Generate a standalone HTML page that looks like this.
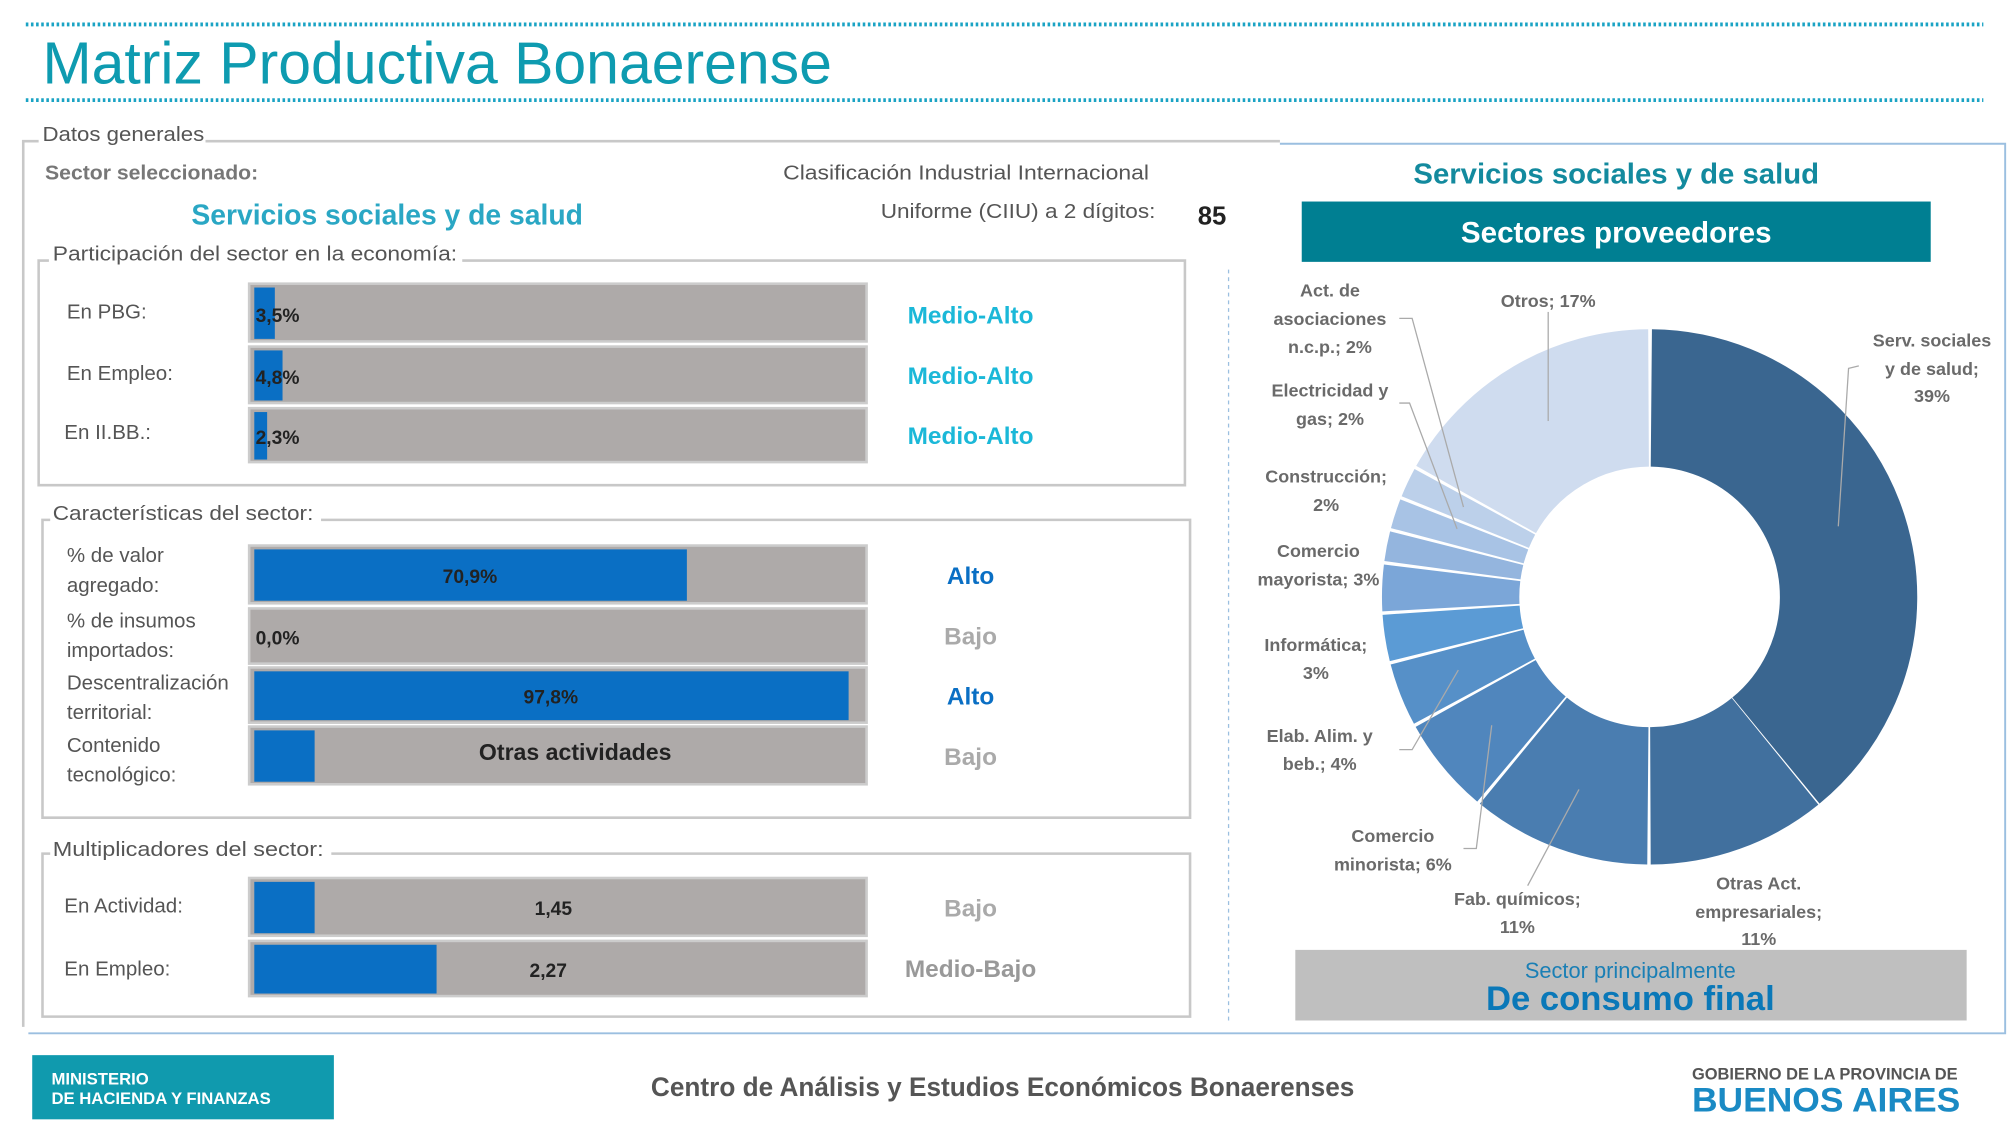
<!DOCTYPE html>
<html><head><meta charset="utf-8"><style>
html,body{margin:0;padding:0;background:#fff}
svg{display:block}
text{font-family:"Liberation Sans",sans-serif}
</style></head><body>
<svg width="2013" height="1145" viewBox="0 0 1568 892" xmlns="http://www.w3.org/2000/svg">
<!-- header -->
<line x1="20" y1="19" x2="1545" y2="19" stroke="#1aa3c4" stroke-width="3" stroke-dasharray="2 2"/>
<line x1="20" y1="78" x2="1545" y2="78" stroke="#1aa3c4" stroke-width="3" stroke-dasharray="2 2"/>
<text x="33" y="65" font-size="46" fill="#0e9bb0" textLength="615" lengthAdjust="spacingAndGlyphs">Matriz Productiva Bonaerense</text>

<!-- frames -->
<path d="M160 110 H997" stroke="#c8c8c8" stroke-width="2" fill="none"/>
<path d="M30 110 H18 V800" stroke="#c8c8c8" stroke-width="2" fill="none"/>
<text x="33" y="110" font-size="16" fill="#555" textLength="126" lengthAdjust="spacingAndGlyphs">Datos generales</text>
<path d="M997 112 H1562 V805 H22" stroke="#9bbfe0" stroke-width="1.5" fill="none"/>
<line x1="957" y1="210" x2="957" y2="797" stroke="#9bbfe0" stroke-width="1" stroke-dasharray="3 3"/>

<text x="35" y="140" font-size="16" fill="#777" font-weight="bold" textLength="166" lengthAdjust="spacingAndGlyphs">Sector seleccionado:</text>
<text x="610" y="140" font-size="16" fill="#555" textLength="285" lengthAdjust="spacingAndGlyphs">Clasificación Industrial Internacional</text>
<text x="686" y="170" font-size="16" fill="#555" textLength="214" lengthAdjust="spacingAndGlyphs">Uniforme (CIIU) a 2 dígitos:</text>
<text x="933" y="175" font-size="20" fill="#222" font-weight="bold">85</text>
<text x="149" y="175" font-size="22" fill="#2aa7c4" font-weight="bold" textLength="305" lengthAdjust="spacingAndGlyphs">Servicios sociales y de salud</text>

<!-- Participación -->
<path d="M360 203 H923 V378 H30 V203 H38" stroke="#c8c8c8" stroke-width="2" fill="none"/>
<text x="41" y="203" font-size="16" fill="#555" textLength="315" lengthAdjust="spacingAndGlyphs">Participación del sector en la economía:</text>
<g font-size="16" fill="#555">
<text x="52" y="248">En PBG:</text>
<text x="52" y="296">En Empleo:</text>
<text x="50" y="342">En II.BB.:</text>
</g>
<g stroke="#ccc" stroke-width="2">
<rect x="194" y="221" width="481" height="45" fill="#aeaaa9"/>
<rect x="194" y="270" width="481" height="44" fill="#aeaaa9"/>
<rect x="194" y="318" width="481" height="42" fill="#aeaaa9"/>
</g>
<rect x="198" y="224" width="16" height="40" fill="#0a6fc4"/>
<rect x="198" y="273" width="22" height="39" fill="#0a6fc4"/>
<rect x="198" y="321" width="10" height="37" fill="#0a6fc4"/>
<g font-size="15" font-weight="bold" fill="#222">
<text x="199" y="251">3,5%</text><text x="199" y="299">4,8%</text><text x="199" y="346">2,3%</text>
</g>
<g font-size="19" font-weight="bold" fill="#1bb8d8" text-anchor="middle">
<text x="756" y="252">Medio-Alto</text><text x="756" y="299">Medio-Alto</text><text x="756" y="346">Medio-Alto</text>
</g>

<!-- Características -->
<path d="M250 405 H927 V637 H33 V405 H39" stroke="#c8c8c8" stroke-width="2" fill="none"/>
<text x="41" y="405" font-size="16" fill="#555" textLength="203" lengthAdjust="spacingAndGlyphs">Características del sector:</text>
<g font-size="16" fill="#555">
<text x="52" y="438">% de valor</text><text x="52" y="461">agregado:</text>
<text x="52" y="489">% de insumos</text><text x="52" y="512">importados:</text>
<text x="52" y="537">Descentralización</text><text x="52" y="560">territorial:</text>
<text x="52" y="586">Contenido</text><text x="52" y="609">tecnológico:</text>
</g>
<g stroke="#ccc" stroke-width="2" fill="#aeaaa9">
<rect x="194" y="425" width="481" height="45"/>
<rect x="194" y="474" width="481" height="43"/>
<rect x="194" y="520" width="481" height="43"/>
<rect x="194" y="566" width="481" height="45"/>
</g>
<rect x="198" y="428" width="337" height="40" fill="#0a6fc4"/>
<rect x="198" y="523" width="463" height="38" fill="#0a6fc4"/>
<rect x="198" y="569" width="47" height="40" fill="#0a6fc4"/>
<g font-size="15" font-weight="bold" fill="#222">
<text x="366" y="454" text-anchor="middle">70,9%</text>
<text x="199" y="502">0,0%</text>
<text x="429" y="548" text-anchor="middle">97,8%</text>
<text x="448" y="592" text-anchor="middle" font-size="18">Otras actividades</text>
</g>
<g font-size="19" font-weight="bold" text-anchor="middle">
<text x="756" y="455" fill="#0a6fc4">Alto</text>
<text x="756" y="502" fill="#aaa">Bajo</text>
<text x="756" y="549" fill="#0a6fc4">Alto</text>
<text x="756" y="596" fill="#aaa">Bajo</text>
</g>

<!-- Multiplicadores -->
<path d="M258 665 H927 V792 H33 V665 H39" stroke="#c8c8c8" stroke-width="2" fill="none"/>
<text x="41" y="667" font-size="16" fill="#555" textLength="211" lengthAdjust="spacingAndGlyphs">Multiplicadores del sector:</text>
<g font-size="16" fill="#555"><text x="50" y="711">En Actividad:</text><text x="50" y="760">En Empleo:</text></g>
<g stroke="#ccc" stroke-width="2" fill="#aeaaa9">
<rect x="194" y="684" width="481" height="45"/>
<rect x="194" y="733" width="481" height="43"/>
</g>
<rect x="198" y="687" width="47" height="40" fill="#0a6fc4"/>
<rect x="198" y="736" width="142" height="38" fill="#0a6fc4"/>
<g font-size="15" font-weight="bold" fill="#222" text-anchor="middle">
<text x="431" y="713">1,45</text><text x="427" y="761">2,27</text>
</g>
<g font-size="19" font-weight="bold" text-anchor="middle" fill="#aaa">
<text x="756" y="714">Bajo</text><text x="756" y="761" fill="#999">Medio-Bajo</text>
</g>

<!-- right panel -->
<text x="1259" y="143" font-size="22" font-weight="bold" fill="#138a9e" text-anchor="middle" textLength="316" lengthAdjust="spacingAndGlyphs">Servicios sociales y de salud</text>
<rect x="1014" y="157" width="490" height="47" fill="#007f92"/>
<text x="1259" y="189" font-size="23" font-weight="bold" fill="#fff" text-anchor="middle" textLength="242" lengthAdjust="spacingAndGlyphs">Sectores proveedores</text>

<!-- donut: r=155, C=973.9 -->
<g transform="translate(1285 465) rotate(-90)" fill="none" stroke-width="107">
<circle r="155" stroke="#3a6690" stroke-dasharray="378.8 1000" transform="rotate(0.5)"/>
<circle r="155" stroke="#41709e" stroke-dasharray="105.1 1000" transform="rotate(140.9)"/>
<circle r="155" stroke="#4a7db0" stroke-dasharray="105.1 1000" transform="rotate(180.5)"/>
<circle r="155" stroke="#5086bd" stroke-dasharray="56.4 1000" transform="rotate(220.1)"/>
<circle r="155" stroke="#5690c8" stroke-dasharray="37 1000" transform="rotate(241.7)"/>
<circle r="155" stroke="#5b9bd5" stroke-dasharray="27.2 1000" transform="rotate(256.1)"/>
<circle r="155" stroke="#7ba6d8" stroke-dasharray="27.2 1000" transform="rotate(266.9)"/>
<circle r="155" stroke="#94b5de" stroke-dasharray="17.5 1000" transform="rotate(277.7)"/>
<circle r="155" stroke="#a8c3e5" stroke-dasharray="17.5 1000" transform="rotate(284.9)"/>
<circle r="155" stroke="#bcd0ea" stroke-dasharray="17.5 1000" transform="rotate(292.1)"/>
<circle r="155" stroke="#cfdcef" stroke-dasharray="163.3 1000" transform="rotate(299.3)"/>
</g>
<!-- leader lines -->
<g stroke="#aaa" stroke-width="1" fill="none">
<polyline points="1448,285 1440,287 1432,410"/>
<polyline points="1206,243 1206,328"/>
<polyline points="1090,248 1100,248 1140,395"/>
<polyline points="1090,314 1098,314 1135,412"/>
<polyline points="1090,584 1100,584 1136,522"/>
<polyline points="1140,661 1150,661 1162,565"/>
<polyline points="1190,690 1230,615"/>
</g>
<g font-size="14" font-weight="bold" fill="#6a6a6a" text-anchor="middle">
<text x="1505" y="270">Serv. sociales</text><text x="1505" y="292">y de salud;</text><text x="1505" y="313">39%</text>
<text x="1370" y="693">Otras Act.</text><text x="1370" y="715">empresariales;</text><text x="1370" y="736">11%</text>
<text x="1182" y="705">Fab. químicos;</text><text x="1182" y="727">11%</text>
<text x="1085" y="656">Comercio</text><text x="1085" y="678">minorista; 6%</text>
<text x="1028" y="578">Elab. Alim. y</text><text x="1028" y="600">beb.; 4%</text>
<text x="1025" y="507">Informática;</text><text x="1025" y="529">3%</text>
<text x="1027" y="434">Comercio</text><text x="1027" y="456">mayorista; 3%</text>
<text x="1033" y="376">Construcción;</text><text x="1033" y="398">2%</text>
<text x="1036" y="309">Electricidad y</text><text x="1036" y="331">gas; 2%</text>
<text x="1036" y="231">Act. de</text><text x="1036" y="253">asociaciones</text><text x="1036" y="275">n.c.p.; 2%</text>
<text x="1206" y="239">Otros; 17%</text>
</g>
<rect x="1009" y="740" width="523" height="55" fill="#bfbfbf"/>
<text x="1270" y="762" font-size="17" fill="#1a7fb5" text-anchor="middle">Sector principalmente</text>
<text x="1270" y="787" font-size="27" font-weight="bold" fill="#0a78b8" text-anchor="middle">De consumo final</text>

<!-- footer -->
<rect x="25" y="822" width="235" height="50" fill="#109aae"/>
<text x="40" y="845" font-size="13" font-weight="bold" fill="#fff">MINISTERIO</text>
<text x="40" y="860" font-size="13" font-weight="bold" fill="#fff">DE HACIENDA Y FINANZAS</text>
<text x="507" y="854" font-size="21" font-weight="bold" fill="#555" textLength="548" lengthAdjust="spacingAndGlyphs">Centro de Análisis y Estudios Económicos Bonaerenses</text>
<text x="1318" y="841" font-size="13" font-weight="bold" fill="#555" textLength="207" lengthAdjust="spacingAndGlyphs">GOBIERNO DE LA PROVINCIA DE</text>
<text x="1318" y="866" font-size="27" font-weight="bold" fill="#1a8ac4" textLength="209" lengthAdjust="spacingAndGlyphs">BUENOS AIRES</text>
</svg>
</body></html>
